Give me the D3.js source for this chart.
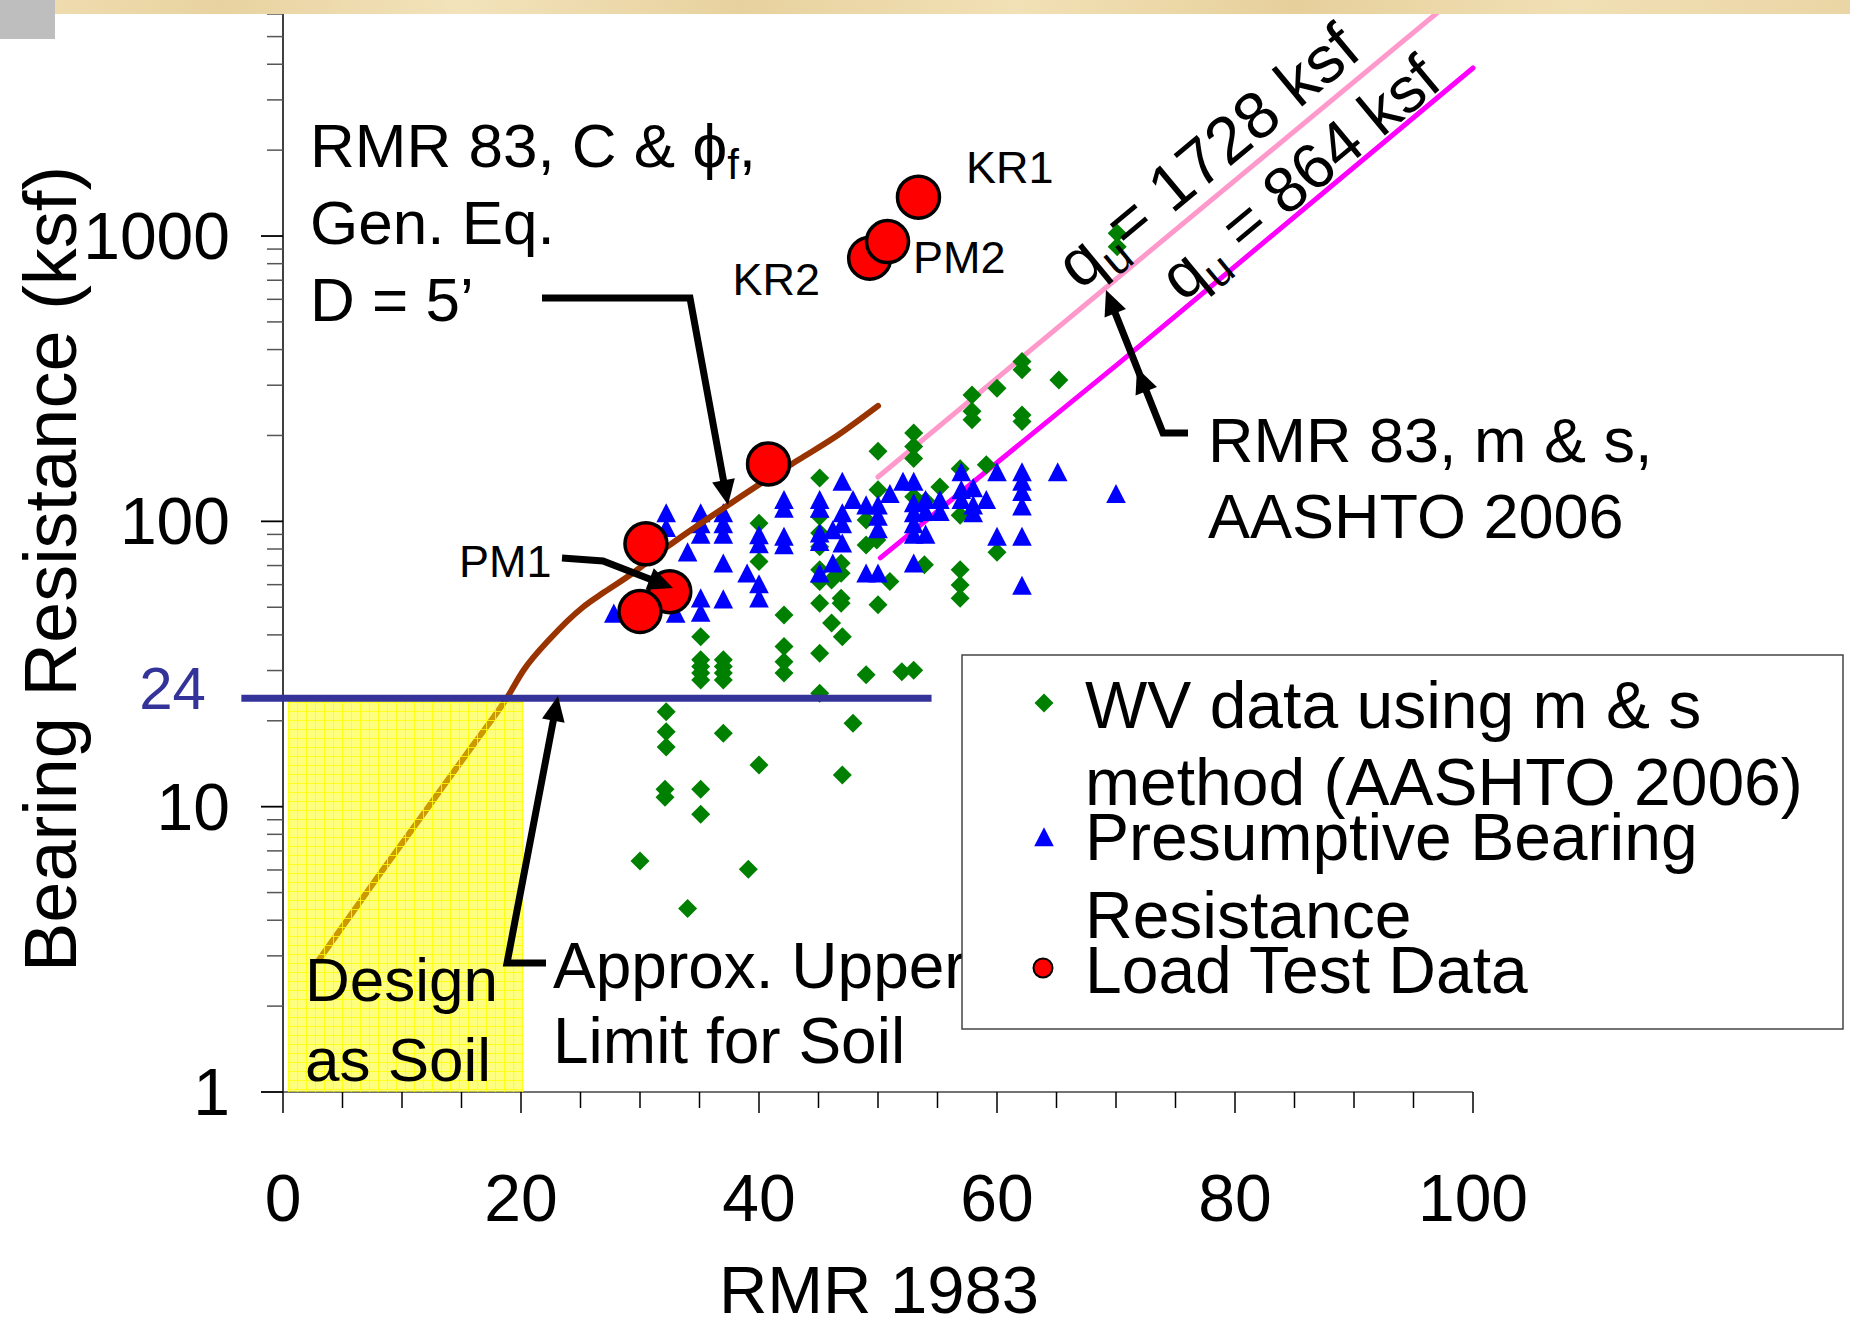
<!DOCTYPE html>
<html>
<head>
<meta charset="utf-8">
<script src="https://cdn.jsdelivr.net/npm/d3@7"></script>
<style>
  html, body { margin: 0; padding: 0; background: #ffffff; }
  svg { display: block; }
  text { font-family: "Liberation Sans", Arial, Helvetica, sans-serif; fill: #000; }
</style>
</head>
<body>
<svg id="chart" width="1850" height="1327"></svg>
<script>
// ---------------- data ----------------
// WV data using m & s method (AASHTO 2006): [RMR 1983, bearing resistance ksf]
const wvData = [
  [70.1,1023],[70.1,918],
  [62.1,363],[62.1,340],[65.2,313],[60.0,293],
  [57.9,277],[57.9,243],[57.9,227],
  [62.1,236],[62.1,224],
  [53.0,204],[53.0,183],[53.0,166],
  [50.0,176],[59.1,158],[56.9,153],[45.1,142],
  [50.0,129],[53.0,122],[55.2,132],[54.0,118],
  [56.9,105],[49.0,101],[45.1,104],[45.1,91],
  [40.0,98.5],[40.0,72.3],[45.1,81.5],[49.0,82.7],[49.9,86],
  [53.9,70.4],[60.0,78],
  [56.9,67.6],[56.9,59.8],[56.9,53.8],
  [51.0,61.5],[50.0,51],
  [46.9,71.3],[46.9,65.8],[46.9,53.8],[46.9,51.6],
  [45.1,67.6],[45.1,61.5],[45.1,51.6],
  [46.1,62.3],[46.1,44],[47.0,39.4],
  [42.1,47],[45.1,34.5],
  [42.1,36.4],[42.1,32.2],[42.1,29.4],
  [35.1,39.4],[35.1,32.7],[35.1,31],[35.1,29.4],[35.1,27.8],
  [37.0,32.7],[37.0,31],[37.0,29.4],[37.0,27.8],
  [49.0,29],[52.0,29.7],[53.0,30.1],[45.1,25],
  [32.2,21.5],[32.2,18.3],[32.2,16.2],
  [37.0,18.1],[40.0,14],[47.9,19.6],[47.0,12.9],
  [32.1,11.5],[32.1,10.8],[35.1,11.5],[35.1,9.4],
  [30.0,6.45],[39.1,6.04],[34.0,4.4]
];

// Presumptive bearing resistance
const presumptiveData = [
  [27.8,47.6],[32.2,107],[32.2,95],[33.0,47.6],[34.0,78],
  [35.1,107],[35.1,98],[35.1,90],[35.1,53.8],[35.1,47.9],
  [37.0,107],[37.0,98],[37.0,90],[37.0,71.3],[37.0,53.4],
  [39.0,65.8],[40.0,89.6],[40.0,83.4],[40.0,60.3],[40.0,53.8],
  [42.1,119],[42.1,111],[42.1,88.5],[42.1,82.7],
  [45.1,119],[45.1,111],[45.1,90.8],[45.1,84.9],[45.1,65.8],
  [46.2,93.3],[46.2,71.3],
  [47.0,138],[47.0,107],[47.0,98],[47.0,83.8],
  [47.9,119],[49.0,114],[49.0,65.8],
  [50.0,114],[50.0,104],[50.0,94],[50.0,65.8],
  [51.0,125],[52.1,138],[53.0,138],
  [53.0,116],[53.0,107],[53.0,98],[53.0,90],[53.0,71.3],
  [54.0,119],[54.0,108],[54.0,90],
  [55.2,119],[55.2,108],
  [57.0,149],[57.0,129],[57.0,119],
  [58.0,131],[58.0,114],[58.0,107],
  [59.1,119],[60.0,149],[60.0,88.5],
  [62.1,149],[62.1,138],[62.1,127],[62.1,113],[62.1,88.5],[62.1,59.6],
  [65.1,149],[70.0,125]
];

// Load test data (drawing order matters where circles overlap)
const loadTestData = [
  [53.4,1368],[49.3,836],[50.8,956],
  [40.8,159],[30.5,83.4],[32.5,56.7],[30.0,48.3]
];

// RMR 83, C & phi_f, general bearing equation, D = 5'
const genEqRmr = [3, 8, 12, 16, 18.8, 20.2, 22.5, 25.2, 27, 29.2, 32.3, 37.8, 40.3, 43.4, 46.2, 50];
const genEqQ   = [2.9, 5.7, 9.7, 16.5, 24, 30, 39, 50, 56.5, 65, 81.5, 117, 137, 165, 195, 254];

// RMR 83, m & s, AASHTO 2006 for two rock strengths
const qu1728Line = [[50.0,143],[70.3,723],[100,7700]];
const qu864Line  = [[50.2,74.5],[70.3,360],[100,3880]];

// Approximate upper limit for soil and the "design as soil" zone
const soilLimitQ = 24;
const soilLimitRmr = [-3.5, 54.5];
const soilZoneRmr = [0.4, 20.2];
const soilZoneQ = [1, 24];

const xTickValues = [0, 20, 40, 60, 80, 100];
const yTickValues = [1, 10, 100, 1000];

const legendLabels = [
  ["WV data using m & s", "method (AASHTO 2006)"],
  ["Presumptive Bearing", "Resistance"],
  ["Load Test Data"]
];

// ---------------- scales ----------------
const svg = d3.select("#chart");
const x = d3.scaleLinear().domain([0, 100]).range([283, 1473]);
const y = d3.scaleLog().domain([1, 6000]).range([1092, 14]);

// ---------------- defs ----------------
const defs = svg.append("defs");
const grid = defs.append("pattern").attr("id", "soilGrid")
  .attr("patternUnits", "userSpaceOnUse").attr("width", 9).attr("height", 9);
grid.append("rect").attr("width", 9).attr("height", 9)
  .attr("fill", "#ffff00").attr("fill-opacity", 0.5);
grid.append("path").attr("d", "M0 0.5H9M0.5 0V9")
  .attr("stroke", "#ffff00").attr("stroke-width", 1).attr("stroke-opacity", 0.8);

const banner = defs.append("linearGradient").attr("id", "bannerTone")
  .attr("x1", 0).attr("x2", 1).attr("y1", 0).attr("y2", 0);
[["0%","#f1dfb3"],["12%","#e8d2a0"],["25%","#f3e3bb"],["40%","#e7d19e"],
 ["55%","#f2e1b6"],["70%","#e6cf9b"],["85%","#f1e0b5"],["100%","#ead5a5"]]
  .forEach(([o, c]) => banner.append("stop").attr("offset", o).attr("stop-color", c));

// ---------------- axes ----------------
const axes = svg.append("g");
axes.append("line").attr("x1", x(0)).attr("x2", x(0)).attr("y1", 14).attr("y2", y(1))
  .attr("stroke", "#000").attr("stroke-width", 1.5);
axes.append("line").attr("x1", x(0)).attr("x2", x(100)).attr("y1", y(1)).attr("y2", y(1))
  .attr("stroke", "#444").attr("stroke-width", 1.5);

// y ticks (log, majors at decades)
const yMinor = [];
[1, 10, 100, 1000].forEach(d => { for (let k = 2; k <= 9; k++) if (d * k <= 6000) yMinor.push(d * k); });
axes.selectAll(".yminor").data(yMinor).join("line")
  .attr("x1", x(0) - 16).attr("x2", x(0)).attr("y1", d => y(d)).attr("y2", d => y(d))
  .attr("stroke", "#555").attr("stroke-width", 1.5);
axes.selectAll(".ymajor").data(yTickValues).join("line")
  .attr("x1", x(0) - 22).attr("x2", x(0)).attr("y1", d => y(d)).attr("y2", d => y(d))
  .attr("stroke", "#000").attr("stroke-width", 1.8);
axes.selectAll(".ylabel").data(yTickValues).join("text")
  .attr("x", 230).attr("y", d => y(d) + 23)
  .attr("text-anchor", "end").attr("font-size", 66)
  .text(d => d3.format("d")(d));

// x ticks
const xMinor = d3.range(0, 101, 5).filter(v => v % 20 !== 0);
axes.selectAll(".xminor").data(xMinor).join("line")
  .attr("x1", d => x(d)).attr("x2", d => x(d)).attr("y1", y(1)).attr("y2", y(1) + 16)
  .attr("stroke", "#000").attr("stroke-width", 1.5);
axes.selectAll(".xmajor").data(xTickValues).join("line")
  .attr("x1", d => x(d)).attr("x2", d => x(d)).attr("y1", y(1)).attr("y2", y(1) + 21)
  .attr("stroke", "#000").attr("stroke-width", 1.5);
axes.selectAll(".xlabel").data(xTickValues).join("text")
  .attr("x", d => x(d)).attr("y", 1221)
  .attr("text-anchor", "middle").attr("font-size", 66)
  .text(d => d);

// axis titles
svg.append("text").attr("x", 879).attr("y", 1313).attr("text-anchor", "middle")
  .attr("font-size", 67).text("RMR 1983");
svg.append("text").attr("transform", "translate(76,569) rotate(-90)")
  .attr("text-anchor", "middle").attr("font-size", 74).text("Bearing Resistance (ksf)");

// ---------------- series ----------------
const lineLog = d3.line().x(d => x(d[0])).y(d => y(d[1]));

// m & s lines
svg.append("path").datum(qu1728Line).attr("d", lineLog)
  .attr("fill", "none").attr("stroke", "#ff99cc").attr("stroke-width", 5).attr("stroke-linecap", "round");
svg.append("path").datum(qu864Line).attr("d", lineLog)
  .attr("fill", "none").attr("stroke", "#ff00ff").attr("stroke-width", 5).attr("stroke-linecap", "round");

// marker shapes
const diamondPath = "M0,-9.5L9.5,0L0,9.5L-9.5,0Z";
const trianglePath = "M0,-9.8L9.8,9.3L-9.8,9.3Z";

svg.append("g").selectAll("path").data(wvData).join("path")
  .attr("d", diamondPath)
  .attr("transform", d => `translate(${x(d[0])},${y(d[1])})`)
  .attr("fill", "#008000");

svg.append("g").selectAll("path").data(presumptiveData).join("path")
  .attr("d", trianglePath)
  .attr("transform", d => `translate(${x(d[0])},${y(d[1])})`)
  .attr("fill", "#0000ff");

// general equation curve
const genEq = genEqRmr.map((r, i) => [r, genEqQ[i]]);
svg.append("path").datum(genEq)
  .attr("d", d3.line().x(d => x(d[0])).y(d => y(d[1])).curve(d3.curveMonotoneX))
  .attr("fill", "none").attr("stroke", "#993300").attr("stroke-width", 6)
  .attr("stroke-linecap", "round").attr("stroke-linejoin", "round");

// design-as-soil zone
svg.append("rect")
  .attr("x", x(soilZoneRmr[0])).attr("width", x(soilZoneRmr[1]) - x(soilZoneRmr[0]))
  .attr("y", y(soilZoneQ[1]) + 3).attr("height", y(soilZoneQ[0]) - y(soilZoneQ[1]) - 3)
  .attr("fill", "url(#soilGrid)");

// upper limit for soil
svg.append("line")
  .attr("x1", x(soilLimitRmr[0])).attr("x2", x(soilLimitRmr[1]))
  .attr("y1", y(soilLimitQ)).attr("y2", y(soilLimitQ))
  .attr("stroke", "#333399").attr("stroke-width", 7);
svg.append("text").attr("x", 206).attr("y", y(soilLimitQ) + 11)
  .attr("text-anchor", "end").attr("font-size", 60).style("fill", "#333399")
  .text(soilLimitQ);

// load tests
svg.append("g").selectAll("circle").data(loadTestData).join("circle")
  .attr("cx", d => x(d[0])).attr("cy", d => y(d[1])).attr("r", 21)
  .attr("fill", "#ff0000").attr("stroke", "#000").attr("stroke-width", 3.5);

// ---------------- annotations ----------------
function arrow(points, width, heads) {
  const g = svg.append("g");
  const pts = points.map(p => p.slice());
  const n = pts.length;
  const tip = pts[n - 1], prev = pts[n - 2];
  const len = 25, half = 11.5;
  const dx = tip[0] - prev[0], dy = tip[1] - prev[1], L = Math.hypot(dx, dy);
  const ux = dx / L, uy = dy / L;
  const base = [tip[0] - ux * len, tip[1] - uy * len];
  const linePts = pts.slice(0, n - 1).concat([[base[0] + ux * 2, base[1] + uy * 2]]);
  g.append("path").attr("d", d3.line()(linePts))
    .attr("fill", "none").attr("stroke", "#000").attr("stroke-width", width)
    .attr("stroke-linejoin", "miter");
  const headAt = (t, ux, uy) => {
    const b = [t[0] - ux * len, t[1] - uy * len];
    g.append("path").attr("d", d3.line()([
      t, [b[0] - uy * half, b[1] + ux * half], [b[0] + uy * half, b[1] - ux * half]
    ]) + "Z").attr("fill", "#000");
  };
  headAt(tip, ux, uy);
  (heads || []).forEach(t => headAt(t, ux, uy));
}

// "RMR 83, C & phi_f, Gen. Eq., D = 5'"
const t1 = svg.append("text").attr("font-size", 62);
t1.append("tspan").attr("x", 310).attr("y", 167).text("RMR 83, C & ϕ");
t1.append("tspan").attr("font-size", 42).attr("dy", 12).text("f");
t1.append("tspan").attr("dy", -12).text(",");
svg.append("text").attr("font-size", 62).attr("x", 310).attr("y", 244).text("Gen. Eq.");
svg.append("text").attr("font-size", 62).attr("x", 310).attr("y", 321).text("D = 5’");
arrow([[542, 298], [690, 298], [728, 505]], 7);

// load test labels
svg.append("text").attr("font-size", 45).attr("x", 966).attr("y", 183).text("KR1");
svg.append("text").attr("font-size", 45).attr("x", 913).attr("y", 273).text("PM2");
svg.append("text").attr("font-size", 45).attr("x", 820).attr("y", 295).attr("text-anchor", "end").text("KR2");
svg.append("text").attr("font-size", 45).attr("x", 459).attr("y", 577).text("PM1");
arrow([[562, 558], [603, 561], [673, 588]], 7);

// design zone and soil limit labels
svg.append("text").attr("font-size", 62).attr("x", 305).attr("y", 1001).text("Design");
svg.append("text").attr("font-size", 62).attr("x", 305).attr("y", 1081).text("as Soil");
svg.append("text").attr("font-size", 64).attr("x", 553).attr("y", 988).text("Approx. Upper");
svg.append("text").attr("font-size", 64).attr("x", 553).attr("y", 1063).text("Limit for Soil");
arrow([[546, 963], [507, 963], [558, 696]], 7);

// m & s labels along the lines
function quLabel(tx, ty, size, rest) {
  const t = svg.append("text").attr("font-size", size)
    .attr("transform", `translate(${tx},${ty}) rotate(-39.7)`);
  t.append("tspan").text("q");
  t.append("tspan").attr("font-size", size * 0.7).attr("dy", size * 0.2).text("u");
  t.append("tspan").attr("dy", -size * 0.2).text(rest);
}
quLabel(1080, 291, 66, "= 1728 ksf");
quLabel(1183, 303, 64, " = 864 ksf");

svg.append("text").attr("font-size", 63).attr("x", 1208).attr("y", 462).text("RMR 83, m & s,");
svg.append("text").attr("font-size", 63).attr("x", 1208).attr("y", 538).text("AASHTO 2006");
arrow([[1188, 433], [1163, 433], [1106, 290]], 7, [[1137, 368]]);

// ---------------- legend ----------------
const lg = svg.append("g");
lg.append("rect").attr("x", 962).attr("y", 655).attr("width", 881).attr("height", 374)
  .attr("fill", "#fff").attr("stroke", "#444").attr("stroke-width", 1.5);
lg.append("path").attr("d", diamondPath).attr("transform", "translate(1044,703)").attr("fill", "#008000");
lg.append("path").attr("d", trianglePath).attr("transform", "translate(1044,837)").attr("fill", "#0000ff");
lg.append("circle").attr("cx", 1043).attr("cy", 968).attr("r", 9.5)
  .attr("fill", "#ff0000").attr("stroke", "#000").attr("stroke-width", 2);
const legendBaselines = [[728, 805], [860, 938], [993]];
legendLabels.forEach((lines, i) => {
  lines.forEach((s, j) => {
    lg.append("text").attr("x", 1085).attr("y", legendBaselines[i][j])
      .attr("font-size", 66).text(s);
  });
});

// ---------------- page header strip ----------------
svg.append("rect").attr("x", 0).attr("y", 0).attr("width", 1850).attr("height", 14)
  .attr("fill", "url(#bannerTone)");
svg.append("rect").attr("x", 0).attr("y", 0).attr("width", 55).attr("height", 39)
  .attr("fill", "#bebebe");
</script>
</body>
</html>
